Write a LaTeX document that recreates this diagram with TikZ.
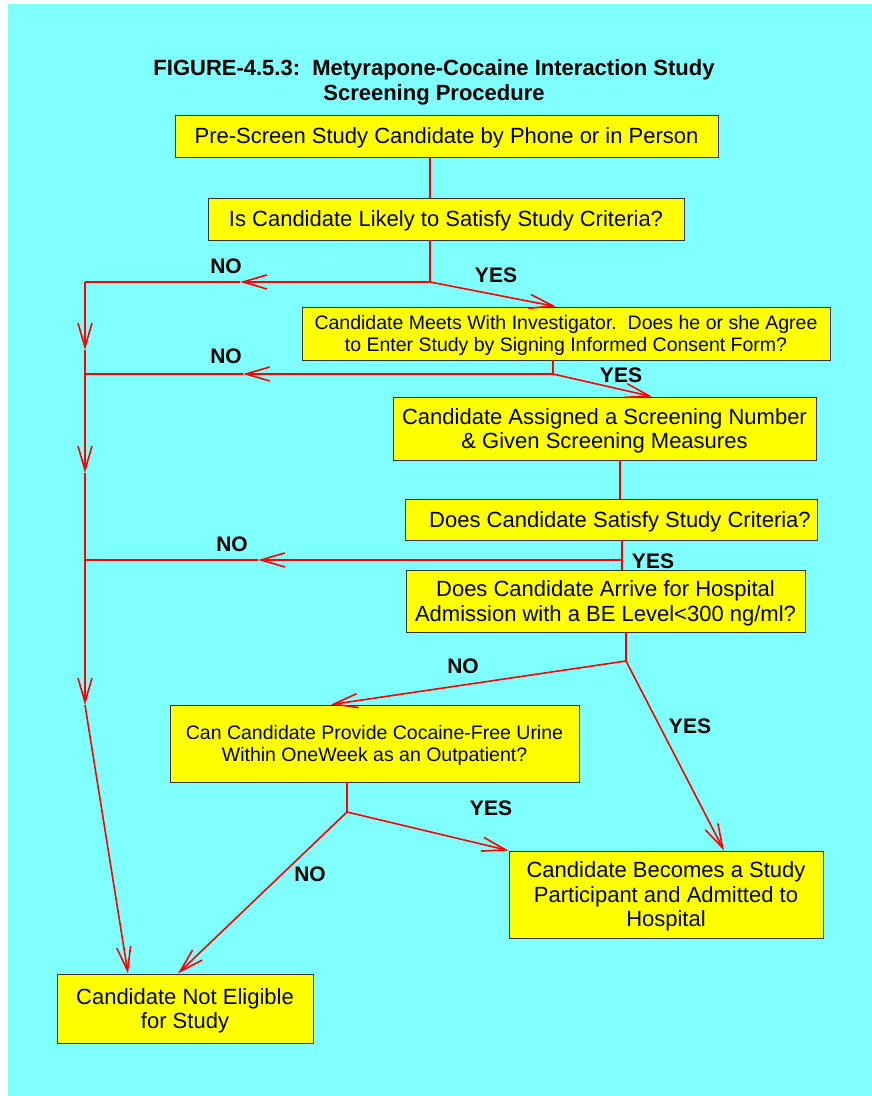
\documentclass[tikz,border=0pt]{standalone}
\usepackage{fontspec}
\setmainfont{Liberation Sans}
\usetikzlibrary{arrows.meta}
\definecolor{bgcyan}{RGB}{128,255,255}
\definecolor{boxyellow}{RGB}{255,255,0}
\definecolor{lnred}{RGB}{255,0,0}
\begin{document}
\begin{tikzpicture}[x=1pt,y=-1pt,
  box/.style={draw=black!80, line width=0.9pt, fill=boxyellow, align=center, inner sep=0pt,
    text depth=0pt, font=\fontsize{22}{24.5}\selectfont},
  sbox/.style={box, font=\fontsize{19.5}{21.5}\selectfont},
  lab/.style={font=\fontsize{21}{24}\selectfont\bfseries, inner sep=0pt},
  ttl/.style={font=\fontsize{22}{25}\selectfont\bfseries, inner sep=0pt, anchor=base},
  ln/.style={draw=lnred, line width=1.6pt},
  arr/.style={ln, -{Straight Barb[length=24pt,width=14pt]}}]
\useasboundingbox (0,0) rectangle (872,1096);
\fill[bgcyan] (8,4) rectangle (872,1096);

% title
\node[ttl] (t1) at (434,75) {FIGURE-4.5.3:\ \ Metyrapone-Cocaine Interaction Study};
\node[ttl] (t2) at (434,100) {Screening Procedure};

% boxes
\node[box, minimum width=543, minimum height=42] (b1) at (446.5,136) {Pre-Screen Study Candidate by Phone or in Person};
\node[box, minimum width=476, minimum height=42] (b2) at (446,219) {Is Candidate Likely to Satisfy Study Criteria?};
\node[sbox, minimum width=528, minimum height=53] (b3) at (566,333.5) {Candidate Meets With Investigator.\ \ Does he or she Agree\\to Enter Study by Signing Informed Consent Form?};
\node[box, minimum width=423, minimum height=63] (b4) at (604.5,428.5) {Candidate Assigned a Screening Number\\\& Given Screening Measures};
\node[box, minimum width=412, minimum height=41] (b5) at (611,519.5) {\hspace*{18pt}Does Candidate Satisfy Study Criteria?};
\node[box, minimum width=399, minimum height=62] (b6) at (605.5,601) {Does Candidate Arrive for Hospital\\Admission with a BE Level<300 ng/ml?};
\node[sbox, minimum width=409, minimum height=77] (b7) at (374.5,743.5) {Can Candidate Provide Cocaine-Free Urine\\Within OneWeek as an Outpatient?};
\node[box, minimum width=314, minimum height=87] (b8) at (666,894.5) {Candidate Becomes a Study\\Participant and Admitted to\\Hospital};
\node[box, minimum width=256, minimum height=69] (b9) at (185,1008.5) {Candidate Not Eligible\\for Study};

% junction coordinates
\coordinate (J1) at (430,282);
\coordinate (J2) at (553,374);
\coordinate (X45) at (620,480);
\coordinate (J3) at (622,560);
\coordinate (J4) at (626,661);
\coordinate (J5) at (347,812);
\coordinate (L1) at (85,282);
\coordinate (L2) at (85,374);
\coordinate (L3) at (85,560);
\coordinate (A1) at (240,282);
\coordinate (A2) at (243,374);
\coordinate (A3) at (258,560);
\coordinate (V1) at (85,350);
\coordinate (V2) at (85,473);
\coordinate (V3) at (85,705);

% main flow
\draw[ln] (b1.south -| J1) -- (b2.north -| J1);
\draw[ln] (b2.south -| J1) -- (J1);
\draw[arr] (J1) -- ([xshift=-10pt]b3.north);
\draw[ln] (b3.south -| J2) -- (J2);
\draw[arr] (J2) -- ([xshift=47.5pt]b4.north);
\draw[ln] (b4.south -| X45) -- (b5.north -| X45);
\draw[ln] (b5.south -| J3) -- (b6.north -| J3);
\draw[ln] (b6.south -| J4) -- (J4);
\draw[arr] (J4) -- ([xshift=-43.5pt]b7.north);
\draw[arr] (J4) -- ([xshift=58pt]b8.north);
\draw[ln] (b7.south -| J5) -- (J5);
\draw[arr] (J5) -- (b8.north west);
\draw[arr] (J5) -- ([xshift=-7pt]b9.north);

% NO branches to the left
\draw[arr] (J1) -- (A1);
\draw[ln] (A1) -- (L1);
\draw[arr] (J2) -- (A2);
\draw[ln] (A2) -- (L2);
\draw[arr] (J3) -- (A3);
\draw[ln] (A3) -- (L3);

% left collector
\draw[arr] (L1) -- (V1);
\draw[ln] (V1) -- (L2);
\draw[arr] (L2) -- (V2);
\draw[ln] (V2) -- (L3);
\draw[arr] (L3) -- (V3);
\draw[arr] (V3) -- ([xshift=-57pt]b9.north);

% labels
\node[lab] (n1) at (226,266) {NO};
\node[lab] (y1) at (496,275) {YES};
\node[lab] (n2) at (226,356) {NO};
\node[lab] (y2) at (621,375) {YES};
\node[lab] (n3) at (232,544) {NO};
\node[lab] (y3) at (653,561) {YES};
\node[lab] (n4) at (463,666) {NO};
\node[lab] (y4) at (690,726) {YES};
\node[lab] (y5) at (491,808) {YES};
\node[lab] (n5) at (310,874) {NO};
\end{tikzpicture}
\end{document}
